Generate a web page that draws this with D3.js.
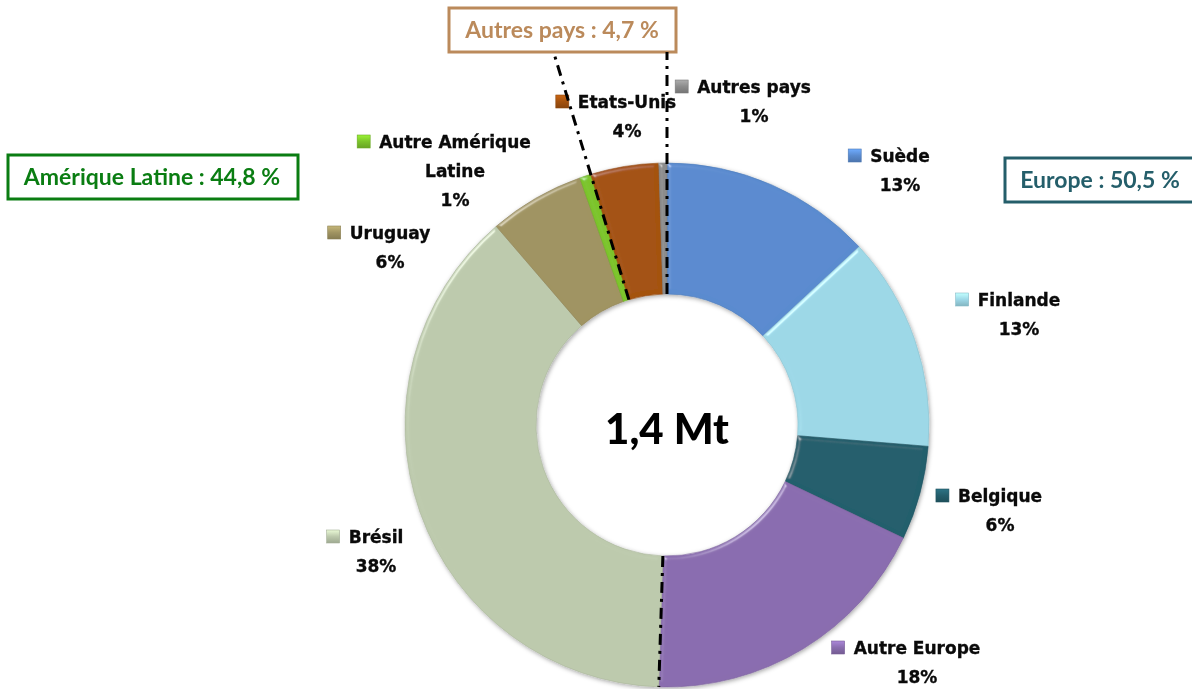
<!DOCTYPE html>
<html><head><meta charset="utf-8">
<script src="https://cdn.jsdelivr.net/npm/d3@7"></script>
<style>body{margin:0;background:#fff}svg{display:block}</style>
</head><body><svg id="c" width="1192" height="689"></svg>
<script>
// ---------- data ----------
const categories = ["Suède", "Finlande", "Belgique", "Autre Europe", "Brésil", "Uruguay", "Autre Amérique Latine", "Etats-Unis", "Autres pays"];
const values = [13.1, 13.2, 5.8, 18.4, 38.2, 5.9, 0.7, 4.2, 0.5];
const colors = ["#5A8BCF", "#9DD8E7", "#245E6C", "#8A6DAF", "#BDCAAD", "#A09462", "#7CC42B", "#A4520F", "#8C8C8C"];
const groupNames = ["Europe", "Amérique Latine", "Autres pays"];
const groupMembers = [[0, 1, 2, 3], [4, 5, 6], [7, 8]];
const groupColors = ["#245E6A", "#0A7D12", "#BB8A5B"];
const centerLabel = "1,4 Mt";

// ---------- layout ----------
const W = 1192, H = 689, cx = 667, cy = 425, rOut = 262, rIn = 131;
// label anchor: centre x of name text, baseline of first line
const labelLayout = [
  {x: 900, y: 162, lines: ["Suède"]},
  {x: 1019, y: 306, lines: ["Finlande"]},
  {x: 1000, y: 502, lines: ["Belgique"]},
  {x: 917, y: 654, lines: ["Autre Europe"]},
  {x: 376, y: 543, lines: ["Brésil"]},
  {x: 390, y: 239, lines: ["Uruguay"]},
  {x: 455, y: 148, lines: ["Autre Amérique", "Latine"]},
  {x: 627, y: 108, lines: ["Etats-Unis"]},
  {x: 754, y: 93, lines: ["Autres pays"]}
];
const lineGap = 29;
const boxLayout = [
  {x: 1005, y: 158, w: 200, h: 44, tx: 1100},
  {x: 8, y: 155, w: 290, h: 44, tx: 152},
  {x: 449, y: 8, w: 227, h: 44, tx: 562}
];

const svg = d3.select("#c");
const defs = svg.append("defs");

// bevel filter
const f = defs.append("filter").attr("id", "bevel").attr("x", "-10%").attr("y", "-10%").attr("width", "120%").attr("height", "120%");
f.append("feGaussianBlur").attr("in", "SourceAlpha").attr("stdDeviation", 2).attr("result", "blur");
const spec = f.append("feSpecularLighting").attr("in", "blur").attr("surfaceScale", 3).attr("specularConstant", 0.7)
  .attr("specularExponent", 35).attr("lighting-color", "#ffffff").attr("result", "spec");
spec.append("feDistantLight").attr("azimuth", 225).attr("elevation", 30);
f.append("feComposite").attr("in", "spec").attr("in2", "SourceAlpha").attr("operator", "in").attr("result", "specIn");
f.append("feComposite").attr("in", "SourceGraphic").attr("in2", "specIn").attr("operator", "arithmetic")
  .attr("k1", 0).attr("k2", 1).attr("k3", 0.5).attr("k4", 0).attr("result", "lit");

const sh = defs.append("filter").attr("id", "shadow").attr("x", "-10%").attr("y", "-10%").attr("width", "120%").attr("height", "120%");
sh.append("feDropShadow").attr("dx", 1).attr("dy", 1.5).attr("stdDeviation", 2).attr("flood-color", "#000").attr("flood-opacity", 0.35);

// square gradients
colors.forEach((c, i) => {
  const g = defs.append("linearGradient").attr("id", "sq" + i).attr("x1", 0).attr("y1", 0).attr("x2", 0).attr("y2", 1);
  g.append("stop").attr("offset", "0%").attr("stop-color", d3.color(c).brighter(0.6));
  g.append("stop").attr("offset", "50%").attr("stop-color", c);
  g.append("stop").attr("offset", "100%").attr("stop-color", d3.color(c).darker(0.5));
});

const pie = d3.pie().sort(null).value(d => d).startAngle(0).endAngle(2 * Math.PI);
const arcs = pie(values);
const arc = d3.arc().innerRadius(rIn).outerRadius(rOut);

const donut = svg.append("g").attr("transform", `translate(${cx},${cy})`).attr("filter", "url(#shadow)");
donut.selectAll("path.slice").data(arcs).join("path")
  .attr("class", "slice")
  .attr("d", arc)
  .attr("fill", (d, i) => colors[i])
  .attr("stroke", (d, i) => d3.color(colors[i]).darker(0.3))
  .attr("stroke-width", 0.6)
  .attr("filter", "url(#bevel)");

// centre text
svg.append("text").attr("x", cx).attr("y", cy + 19).attr("text-anchor", "middle")
  .attr("font-family", "Lato, 'Open Sans', sans-serif").attr("font-weight", 900).attr("font-size", 42)
  .attr("fill", "#000").text(centerLabel);

// labels
const fontLab = "'DejaVu Sans', sans-serif";
const labW = 700, labS = 17;
const pct = values.map(v => Math.round(v) + "%");
labelLayout.forEach((L, i) => {
  const g = svg.append("g");
  L.lines.forEach((t, k) => {
    g.append("text").attr("x", L.x).attr("y", L.y + k * lineGap).attr("text-anchor", "middle")
      .attr("font-family", fontLab).attr("font-weight", labW).attr("font-size", labS)
      .attr("fill", "#0a0a0a").attr("stroke", "#0a0a0a").attr("stroke-width", 0.35)
      .text(t);
  });
  g.append("text").attr("x", L.x).attr("y", L.y + L.lines.length * lineGap).attr("text-anchor", "middle")
    .attr("font-family", fontLab).attr("font-weight", labW).attr("font-size", labS)
    .attr("fill", "#0a0a0a").attr("stroke", "#0a0a0a").attr("stroke-width", 0.35)
    .text(pct[i]);
  const first = g.select("text").node();
  const bb = first.getBBox();
  g.append("rect").attr("x", bb.x - 22).attr("y", L.y - 13).attr("width", 13).attr("height", 13)
    .attr("fill", `url(#sq${i})`).attr("stroke", d3.color(colors[i]).darker(0.4)).attr("stroke-width", 0.6);
});

// group boxes
groupNames.forEach((name, gi) => {
  const sum = d3.sum(groupMembers[gi], i => values[i]);
  const txt = `${name} : ${d3.format(".1f")(sum).replace(".", ",")} %`;
  const B = boxLayout[gi];
  svg.append("rect").attr("x", B.x).attr("y", B.y).attr("width", B.w).attr("height", B.h)
    .attr("fill", "#fff").attr("stroke", groupColors[gi]).attr("stroke-width", 3);
  svg.append("text").attr("x", B.tx).attr("y", B.y + 30).attr("text-anchor", "middle")
    .attr("font-family", "Lato, 'Open Sans', sans-serif").attr("font-weight", 700).attr("font-size", 23)
    .attr("fill", groupColors[gi]).text(txt);
});

// dash-dot boundary lines
const boxBottom = boxLayout[2].y + boxLayout[2].h;
const lineDefs = [
  {a: arcs[7].startAngle, r1: rIn, r2: null},
  {a: arcs[8].endAngle, r1: rIn, r2: null},
  {a: arcs[3].endAngle, r1: rIn, r2: rOut}
];
lineDefs.forEach(L => {
  const r2 = L.r2 !== null ? L.r2 : (cy - boxBottom) / Math.cos(L.a);
  const p = r => [cx + r * Math.sin(L.a), cy - r * Math.cos(L.a)];
  const [x1, y1] = p(L.r1), [x2, y2] = p(r2);
  svg.append("line").attr("x1", x1).attr("y1", y1).attr("x2", x2).attr("y2", y2)
    .attr("stroke", "#000").attr("stroke-width", 3).attr("stroke-dasharray", "11,6,3,6");
});
</script>
</body></html>
